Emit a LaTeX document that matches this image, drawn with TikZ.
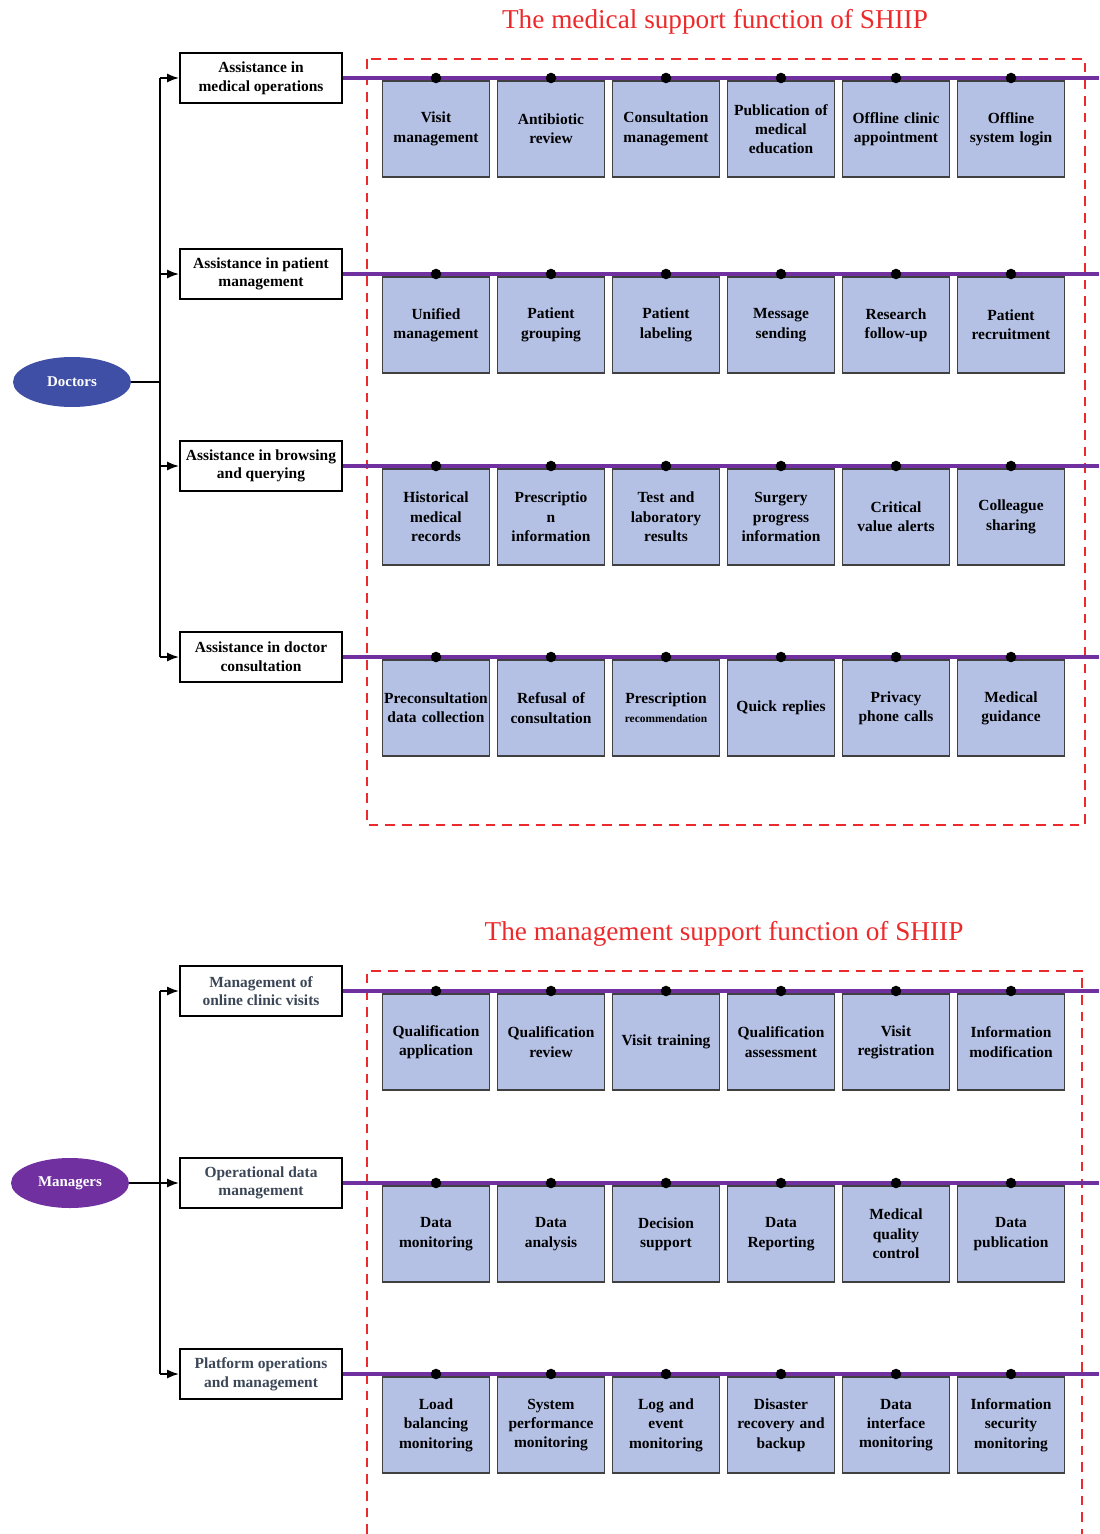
\documentclass[tikz,border=0pt]{standalone}
\usepackage{fontspec}
\setmainfont{Liberation Serif}
\usepackage{xcolor}
\usetikzlibrary{arrows.meta,positioning,shapes.geometric}
\definecolor{busviolet}{HTML}{7030A0}
\definecolor{cellblue}{HTML}{B4C1E5}
\definecolor{docblue}{HTML}{3F4FA6}
\definecolor{slate}{HTML}{3B4656}
\definecolor{titlered}{HTML}{EC2A2C}

\begin{document}
\begin{tikzpicture}[
    x=0.02cm,y=-0.02cm,
    cat/.style={draw,line width=1pt,minimum width=3.24cm,minimum height=1cm,
                inner sep=0pt,align=center,font=\bfseries\fontsize{8.8}{10.6}\selectfont},
    func/.style={draw=black!75,line width=1.1pt,fill=cellblue,minimum width=2.14cm,
                 minimum height=1.92cm,inner sep=0pt,text width=2.14cm,align=center,
                 font=\bfseries\fontsize{8.8}{11}\selectfont},
    role/.style={ellipse,minimum width=2.36cm,minimum height=1cm,inner sep=0pt,
                 text=white,font=\bfseries\fontsize{8.5}{10}\selectfont},
    ttl/.style={text=titlered,font=\fontsize{15.5}{18}\selectfont},
    frame/.style={titlered,dashed,line width=1.1pt,dash pattern=on 5.5pt off 4pt},
    bus/.style={busviolet,line width=2.2pt},
    trunk/.style={line width=1.1pt},
    arr/.style={-{Latex[length=2.4mm,width=1.8mm]},line width=1.1pt},
    dot/.style={fill=black}
  ]
  \useasboundingbox (0,0) rectangle (1099,1534);

  % medical support
  \node[ttl] (t1) at (715,22) {The medical support function of SHIIP};
  \draw[frame] (367,59) rectangle (1085,825);

  \node[role,fill=docblue] (doc) at (72,382) {Doctors};
  \node[cat] (c1) at (261,78) {Assistance in\\medical operations};
  \node[cat] (c2) at (261,274) {Assistance in patient\\management};
  \node[cat] (c3) at (261,466) {Assistance in browsing\\and querying};
  \node[cat] (c4) at (261,657) {Assistance in doctor\\consultation};

  \coordinate (j1) at (160,382);
  \coordinate (k1) at (160,78);
  \coordinate (k2) at (160,274);
  \coordinate (k3) at (160,466);
  \coordinate (k4) at (160,657);
  \draw[trunk] (doc) -- (j1);
  \draw[trunk] (k1) -- (k4);
  \foreach \i in {1,...,4}
    \draw[arr] (k\i) -- (c\i);

  \coordinate (e1) at (1099,78);
  \coordinate (e2) at (1099,274);
  \coordinate (e3) at (1099,466);
  \coordinate (e4) at (1099,657);
  \foreach \i in {1,...,4}
    \draw[bus] (c\i) -- (e\i);

  \foreach \t [count=\i] in {{Visit\\management},{Antibiotic\\review},
      {Consultation\\management},{Publication of\\medical\\education},
      {Offline clinic\\appointment},{Offline\\system login}}
    \node[func] (a\i) at (321+115*\i,129) {\t};
  \foreach \t [count=\i] in {{Unified\\management},{Patient\\grouping},
      {Patient\\labeling},{Message\\sending},{Research\\follow-up},
      {Patient\\recruitment}}
    \node[func] (b\i) at (321+115*\i,325) {\t};
  \foreach \t [count=\i] in {{Historical\\medical\\records},{Prescriptio\\n\\information},
      {Test and\\laboratory\\results},{Surgery\\progress\\information},
      {Critical\\value alerts},{Colleague\\sharing}}
    \node[func] (d\i) at (321+115*\i,517) {\t};
  \foreach \t [count=\i] in {{Preconsultation\\data collection},{Refusal of\\consultation},
      {Prescription\\{\fontsize{6.5}{8}\selectfont recommendation}},{Quick replies},
      {Privacy\\phone calls},{Medical\\guidance}}
    \node[func] (f\i) at (321+115*\i,708) {\t};

  \foreach \r/\c in {a/c1,b/c2,d/c3,f/c4}
    \foreach \i in {1,...,6}
      \fill[dot] (\r\i.north |- \c) circle (3pt);

  % management support
  \node[ttl] (t2) at (724,934) {The management support function of SHIIP};
  \draw[frame] (367,1534) -- (367,971) -- (1082,971) -- (1082,1534);

  \node[role,fill=busviolet] (mgr) at (70,1183) {Managers};
  \node[cat,text=slate] (c5) at (261,991) {Management of\\online clinic visits};
  \node[cat,text=slate] (c6) at (261,1183) {Operational data\\management};
  \node[cat,text=slate] (c7) at (261,1374) {Platform operations\\and management};

  \coordinate (k5) at (160,991);
  \coordinate (k6) at (160,1183);
  \coordinate (k7) at (160,1374);
  \draw[trunk] (k5) -- (k7);
  \draw[trunk] (mgr) -- (k6);
  \foreach \i in {5,6,7}
    \draw[arr] (k\i) -- (c\i);

  \coordinate (e5) at (1099,991);
  \coordinate (e6) at (1099,1183);
  \coordinate (e7) at (1099,1374);
  \foreach \i in {5,6,7}
    \draw[bus] (c\i) -- (e\i);

  \foreach \t [count=\i] in {{Qualification\\application},{Qualification\\review},
      {Visit training},{Qualification\\assessment},{Visit\\registration},
      {Information\\modification}}
    \node[func] (g\i) at (321+115*\i,1042) {\t};
  \foreach \t [count=\i] in {{Data\\monitoring},{Data\\analysis},{Decision\\support},
      {Data\\Reporting},{Medical\\quality\\control},{Data\\publication}}
    \node[func] (h\i) at (321+115*\i,1234) {\t};
  \foreach \t [count=\i] in {{Load\\balancing\\monitoring},{System\\performance\\monitoring},
      {Log and\\event\\monitoring},{Disaster\\recovery and\\backup},
      {Data\\interface\\monitoring},{Information\\security\\monitoring}}
    \node[func] (m\i) at (321+115*\i,1425) {\t};

  \foreach \r/\c in {g/c5,h/c6,m/c7}
    \foreach \i in {1,...,6}
      \fill[dot] (\r\i.north |- \c) circle (3pt);
\end{tikzpicture}
\end{document}
